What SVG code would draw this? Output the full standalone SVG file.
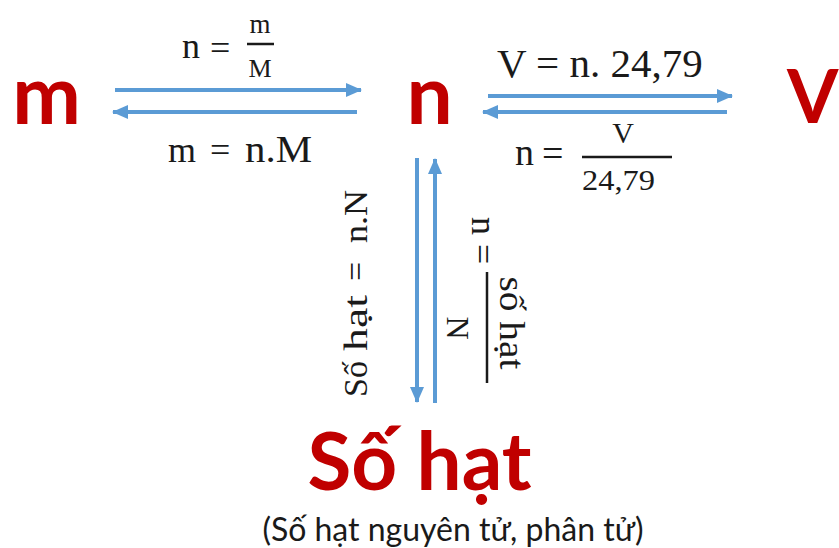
<svg xmlns="http://www.w3.org/2000/svg" width="839" height="548" viewBox="0 0 839 548">
<defs>
<style>
.node{font-family:Lato,"Liberation Sans",sans-serif;font-weight:700;fill:#c00000}
.sub{font-family:Lato,"Liberation Sans",sans-serif;font-weight:400;fill:#1a1a1a}
.eq{font-family:"Liberation Serif","Times New Roman",serif;fill:#1a1a1a}
.arrow{stroke:#5b9bd5;stroke-width:4;fill:none;marker-end:url(#ah)}
.bar{stroke:#1a1a1a;stroke-width:2.5}
</style>
<marker id="ah" markerUnits="userSpaceOnUse" markerWidth="16" markerHeight="14" viewBox="0 0 16 14" refX="15" refY="7" orient="auto">
<path d="M0,0 L16,7 L0,14 z" fill="#5b9bd5"/>
</marker>
</defs>
<rect width="839" height="548" fill="#ffffff"/>

<g id="node-m"><text class="node" x="46.5" y="124" font-size="82" text-anchor="middle">m</text></g>
<g id="node-n"><text class="node" x="429.5" y="124" font-size="82" text-anchor="middle">n</text></g>
<g id="node-V"><text class="node" x="787" y="123" font-size="74">V</text></g>
<g id="node-sohat">
<text class="node" x="419.5" y="490" font-size="80" text-anchor="middle">Số hạt</text>
<text class="sub" x="453" y="541" font-size="32" text-anchor="middle">(Số hạt nguyên tử, phân tử)</text>
</g>

<g id="connectors">
<line class="arrow" x1="115" y1="90" x2="361" y2="90"/>
<line class="arrow" x1="357" y1="112" x2="113" y2="112"/>
<line class="arrow" x1="488" y1="96" x2="732" y2="96"/>
<line class="arrow" x1="727" y1="112" x2="483" y2="112"/>
<line class="arrow" x1="417" y1="158" x2="417" y2="402"/>
<line class="arrow" x1="435" y1="403" x2="435" y2="159"/>
</g>

<g id="labels">
<g id="label-m-n">
<text class="eq" x="182" y="58" font-size="36">n</text>
<text class="eq" x="210" y="60" font-size="36">=</text>
<text class="eq" x="260" y="33" font-size="27" text-anchor="middle">m</text>
<line class="bar" x1="247" y1="44" x2="274" y2="44"/>
<text class="eq" x="260" y="77" font-size="26" text-anchor="middle">M</text>
</g>
<g id="label-n-m">
<text class="eq" x="168" y="162" font-size="36">m</text>
<text class="eq" x="210" y="162" font-size="36">=</text>
<text class="eq" x="245" y="162" font-size="37" textLength="67" lengthAdjust="spacingAndGlyphs">n.M</text>
</g>
<g id="label-n-V">
<text class="eq" x="497" y="77" font-size="41">V = n. 24,79</text>
</g>
<g id="label-V-n">
<text class="eq" x="515" y="165" font-size="38">n</text>
<text class="eq" x="542" y="166" font-size="38">=</text>
<text class="eq" x="623" y="143" font-size="30" text-anchor="middle">V</text>
<line class="bar" x1="582" y1="157" x2="672" y2="157"/>
<text class="eq" x="582" y="190" font-size="29" textLength="73" lengthAdjust="spacingAndGlyphs">24,79</text>
</g>
<g id="label-n-sohat" transform="translate(367,397) rotate(-90)">
<text class="eq" x="0" y="0" font-size="34">Số</text>
<text class="eq" x="46" y="0" font-size="34" textLength="56" lengthAdjust="spacingAndGlyphs">hạt</text>
<text class="eq" x="116" y="0" font-size="34">=</text>
<text class="eq" x="154" y="0" font-size="34" textLength="53" lengthAdjust="spacingAndGlyphs">n.N</text>
</g>
<g id="label-sohat-n" transform="translate(487,0) rotate(90)">
<text class="eq" x="217" y="15" font-size="36">n</text>
<text class="eq" x="244" y="16" font-size="36">=</text>
<line class="bar" x1="272" y1="0" x2="383" y2="0"/>
<text class="eq" x="323" y="-13" font-size="36" text-anchor="middle" textLength="93" lengthAdjust="spacingAndGlyphs">số hạt</text>
<text class="eq" x="328" y="40" font-size="32" text-anchor="middle">N</text>
</g>
</g>
</svg>
